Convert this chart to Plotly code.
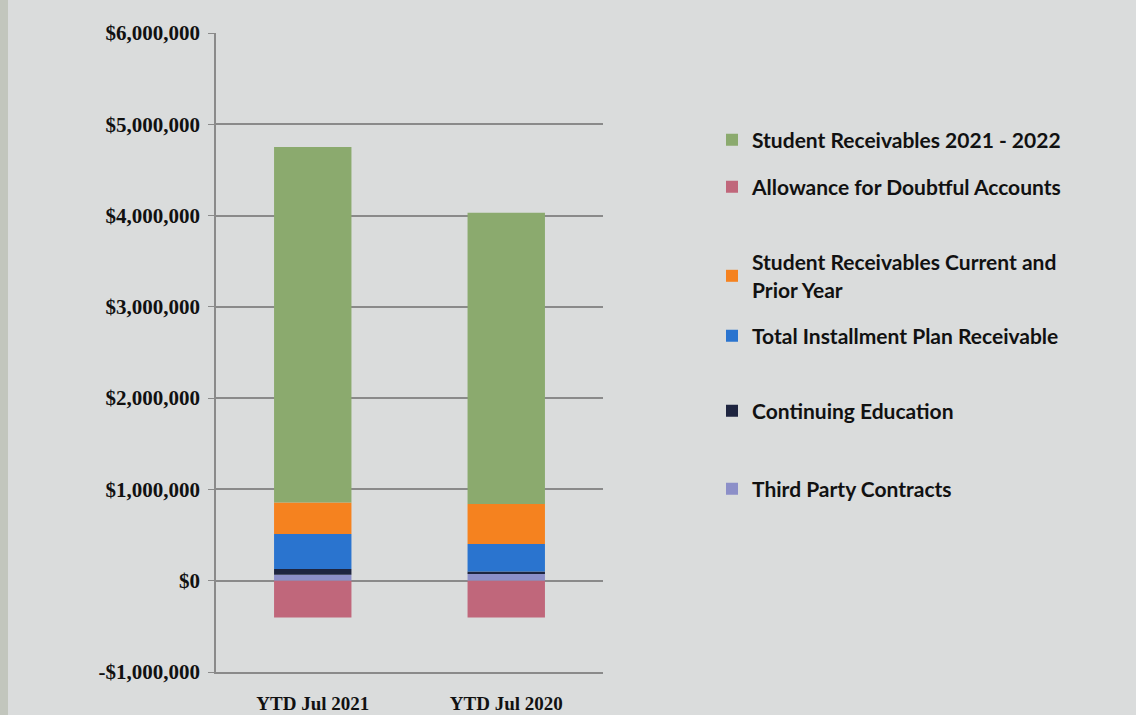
import plotly.graph_objects as go

categories = ["YTD Jul 2021", "YTD Jul 2020"]

third_party = [66000, 80000]
continuing_ed = [62000, 20000]
installment = [383000, 303000]
current_prior = [346000, 438000]
allowance = [-402000, -402000]
receivables_2122 = [3893000, 3189000]

tick_vals = [-1000000, 0, 1000000, 2000000, 3000000, 4000000, 5000000, 6000000]
tick_text = ["-$1,000,000", "$0", "$1,000,000", "$2,000,000", "$3,000,000",
             "$4,000,000", "$5,000,000", "$6,000,000"]

series = [
    ("Third Party Contracts", third_party, "#8c8fc8", "legend6", 489),
    ("Continuing Education", continuing_ed, "#1e2540", "legend5", 411),
    ("Total Installment Plan Receivable", installment, "#2a74cf", "legend4", 336),
    ("Student Receivables Current and<br>Prior Year", current_prior, "#f5821f", "legend3", 276),
    ("Allowance for Doubtful Accounts", allowance, "#c0677b", "legend2", 187),
    ("Student Receivables 2021 - 2022", receivables_2122, "#8baa6e", "legend", 140),
]

W, H = 1136, 715
L, R, T, B = 216, 533, 33, 43
pw = W - L - R
ph = H - T - B

fig = go.Figure()
layout_legends = {}
for name, vals, color, lg, ypix in series:
    fig.add_trace(go.Bar(x=categories, y=vals, name=name, marker_color=color,
                         marker_line_width=0, legend=lg))
    layout_legends[lg] = dict(
        x=(712 - L) / pw, xanchor="left",
        y=(H - B - ypix) / ph, yanchor="middle",
        bgcolor="rgba(0,0,0,0)", borderwidth=0,
        font=dict(family="Lato", size=21, color="#111111", weight="bold"),
        itemwidth=30,
    )

fig.update_layout(
    width=W, height=H, autosize=False,
    barmode="relative", bargap=0.6,
    margin=dict(l=L, r=R, t=T, b=B, pad=0, autoexpand=False),
    paper_bgcolor="#dadcdc", plot_bgcolor="#dadcdc",
    showlegend=True,
    **layout_legends,
)

fig.update_yaxes(
    range=[-1000000, 6000000], automargin=False,
    tickvals=tick_vals, ticktext=tick_text,
    showgrid=True, gridcolor="#8a8a8a", gridwidth=1.5,
    zeroline=True, zerolinecolor="#8a8a8a", zerolinewidth=1.5,
    showline=True, linecolor="#8a8a8a", linewidth=1.5,
    ticks="outside", ticklen=6, tickcolor="#8a8a8a",
    ticklabelstandoff=4,
    tickfont=dict(family="Liberation Serif", size=21, color="#111111", weight="bold"),
)
fig.update_xaxes(
    automargin=False,
    showgrid=False, showline=True, linecolor="#8a8a8a", linewidth=1.5,
    ticks="", ticklabelstandoff=13,
    tickfont=dict(family="Liberation Serif", size=19, color="#111111", weight="bold"),
)

fig.add_shape(type="rect", xref="paper", yref="paper",
              x0=-L / pw, x1=(8 - L) / pw, y0=-B / ph, y1=1 + T / ph,
              fillcolor="#c2c6bd", line_width=0, layer="below")

fig.write_html("out.html",
               config={"responsive": False, "displayModeBar": False},
               post_script="document.body.style.margin='0';document.documentElement.style.overflow='hidden';")
